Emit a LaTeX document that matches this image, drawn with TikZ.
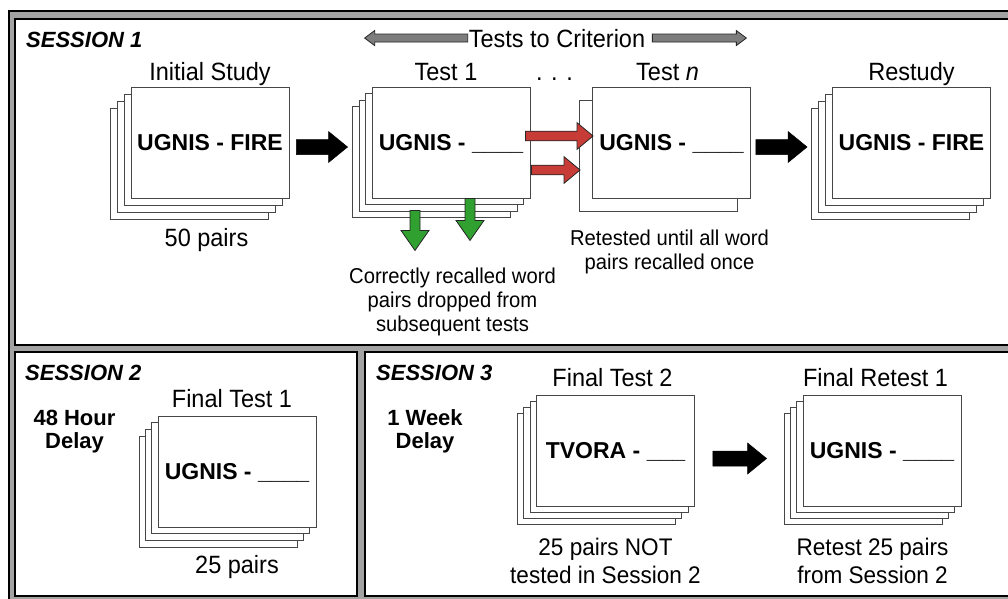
\documentclass[tikz,border=0pt]{standalone}
\usepackage{fontspec}
\setmainfont{Liberation Sans}[FakeStretch=0.94]
\newfontfamily\cardfont{Liberation Sans}
\usetikzlibrary{positioning, calc}

\definecolor{bandgray}{RGB}{163,163,163}
\definecolor{cardline}{RGB}{70,70,70}
\definecolor{dropgreen}{RGB}{48,160,48}
\definecolor{retestred}{RGB}{200,60,55}
\definecolor{critgray}{RGB}{125,125,125}

\begin{document}
\begin{tikzpicture}[x=1pt, y=-1pt,
    card/.style={rectangle, draw=cardline, line width=0.9pt, fill=white,
        minimum width=158pt, minimum height=111pt, inner sep=0pt,
        text height=16.5pt, text depth=0pt,
        font=\cardfont\bfseries\fontsize{23}{26}\selectfont},
    lbl/.style={inner sep=0pt, font=\fontsize{25}{28}\selectfont},
    note/.style={inner sep=0pt, align=center, font=\fontsize{21.5}{24}\selectfont},
    bignote/.style={inner sep=0pt, align=center, font=\fontsize{24}{28}\selectfont},
    sesslbl/.style={inner sep=0pt, anchor=base west, font=\cardfont\bfseries\itshape\fontsize{22}{24}\selectfont},
    delaylbl/.style={inner sep=0pt, align=center, font=\cardfont\bfseries\fontsize{22}{23}\selectfont},
    panel/.style={draw=black, line width=2pt, fill=white},
    blockarrow/.style n args={3}{to path={
        ($(\tikztostart)!#1!90:(\tikztotarget)$)
        -- ($(\tikztotarget)!#3!(\tikztostart)!#1!-90:(\tikztostart)$)
        -- ($(\tikztotarget)!#3!(\tikztostart)!#2!-90:(\tikztostart)$)
        -- (\tikztotarget)
        -- ($(\tikztotarget)!#3!(\tikztostart)!#2!90:(\tikztostart)$)
        -- ($(\tikztotarget)!#3!(\tikztostart)!#1!90:(\tikztostart)$)
        -- ($(\tikztostart)!#1!-90:(\tikztotarget)$)
        -- cycle}},
    blackarrow/.style={fill=black, draw=black, line width=0.5pt, blockarrow={7.5pt}{15.5pt}{19pt}},
    redarrow/.style={fill=retestred, draw=black!85, line width=0.8pt, blockarrow={4.8pt}{13.3pt}{16pt}},
    greenarrow/.style={fill=dropgreen, draw=black!85, line width=0.8pt, blockarrow={5pt}{14pt}{20pt}},
    grayarrow/.style={fill=critgray, draw=black!85, line width=0.8pt, blockarrow={4pt}{7.5pt}{10pt}}]

    %fixes the page and draws the frame with the three panels
    \useasboundingbox (0,0) rectangle (1008,598);
    \clip (0,0) rectangle (1008,598);
    \draw [fill=bandgray, draw=black, line width=2pt] (8.7,11) rectangle (1040,640);%gray frame
    \draw [panel] (15.3,19) rectangle (1040,344.5);%session 1 panel
    \draw [panel] (15.3,351.8) rectangle (356.7,595.5);%session 2 panel
    \draw [panel] (364.5,351.8) rectangle (1040,595.5);%session 3 panel

    %session names and delays
    \node (sess1) [sesslbl] at (26,47) {SESSION 1};
    \node (sess2) [sesslbl] at (25,380) {SESSION 2};
    \node (sess3) [sesslbl] at (376,380) {SESSION 3};
    \node (delay2) [delaylbl, anchor=base] at (74.5,448) {48 Hour\\Delay};%base is the last line
    \node (delay3) [delaylbl, anchor=base] at (425,448) {1 Week\\Delay};

    %tests to criterion with its two gray arrows
    \node (crit) [lbl, anchor=base] at (557,47) {Tests to Criterion};
    \coordinate (critls) at ($(crit.west)+(-1,0)$);
    \coordinate (critle) at ($(crit.west)+(-104,0)$);
    \coordinate (critrs) at ($(crit.east)+(7,0)$);
    \coordinate (critre) at ($(crit.east)+(101,0)$);
    \draw [grayarrow] (critls) to (critle);%points back
    \draw [grayarrow] (critrs) to (critre);%points on
    \node (dots) [lbl, anchor=base] at (554.5,80) {. . .};

    %initial study stack
    \coordinate (studyc) at (210,142.5);
    \foreach \k in {3,2,1}
        \node (study\k) [card] at ($(studyc)+(-7*\k,7*\k)$) {};%cards behind
    \node (study) [card] at (studyc) {UGNIS - FIRE};%front card
    \node (studylbl) [lbl, above=6pt of study, anchor=base] {Initial Study};
    \node (studyn) [lbl, below=48pt of study, anchor=base, xshift=-3.5pt] {50 pairs};

    %test 1 stack
    \coordinate (test1c) at (451,142.5);
    \foreach \k in {3,2,1}
        \node (test1\k) [card] at ($(test1c)+(-6.5*\k,6.5*\k)$) {};
    \node (test1) [card] at (test1c) {UGNIS - \_\_\_\_};
    \node (test1lbl) [lbl, above=6pt of test1, anchor=base, xshift=-5pt] {Test 1};

    %test n with one card behind
    \coordinate (testnc) at (671.5,142.5);
    \node (testnb) [card] at ($(testnc)+(-13,13)$) {};
    \node (testn) [card] at (testnc) {UGNIS - \_\_\_\_};
    \node (testnlbl) [lbl, above=6pt of testn, anchor=base, xshift=-4pt] {Test \textit{n}};
    \node (retestnote) [note, below=71pt of testn, anchor=base, xshift=-2pt] {Retested until all word\\pairs recalled once};

    %restudy stack
    \coordinate (restudyc) at (911.5,142.5);
    \foreach \k in {3,2,1}
        \node (restudy\k) [card] at ($(restudyc)+(-7*\k,7*\k)$) {};
    \node (restudy) [card] at (restudyc) {UGNIS - FIRE};
    \node (restudylbl) [lbl, above=6pt of restudy, anchor=base] {Restudy};

    %session 1 arrows
    \coordinate (a1s) at ($(study.east)+(7,4.5)$);
    \coordinate (a1e) at ($(test1.west)+(-24,4.5)$);
    \draw [blackarrow] (a1s) to (a1e);%study to test 1
    \coordinate (r1s) at ($(test1.east)+(-5,-6.5)$);
    \coordinate (r1e) at ($(testn.west)+(1,-6.5)$);
    \coordinate (r2s) at ($(test1.east)+(1,27.5)$);
    \coordinate (r2e) at ($(testnb.west)+(1,14.5)$);
    \draw [redarrow] (r1s) to (r1e);%retested pairs
    \draw [redarrow] (r2s) to (r2e);
    \coordinate (g1s) at ($(test1.south)+(-36,12)$);
    \coordinate (g1e) at ($(test1.south)+(-36,52)$);
    \coordinate (g2s) at ($(test1.south)+(19,0)$);
    \coordinate (g2e) at ($(test1.south)+(19,42)$);
    \draw [greenarrow] (g1s) to (g1e);%dropped pairs
    \draw [greenarrow] (g2s) to (g2e);
    \node (dropnote) [note, below=133pt of test1, anchor=base, xshift=1.5pt] {Correctly recalled word\\pairs dropped from\\subsequent tests};
    \coordinate (a2s) at ($(testn.east)+(5,4.5)$);
    \coordinate (a2e) at ($(restudy.west)+(-25,4.5)$);
    \draw [blackarrow] (a2s) to (a2e);%test n to restudy

    %session 2 stack
    \coordinate (final1c) at (237,471.5);
    \foreach \k in {3,2,1}
        \node (final1\k) [card] at ($(final1c)+(-6.3*\k,6.7*\k)$) {};
    \node (final1) [card] at (final1c) {UGNIS - \_\_\_\_};
    \node (final1lbl) [lbl, above=8pt of final1, anchor=base, xshift=-5pt] {Final Test 1};
    \node (final1n) [lbl, below=46pt of final1, anchor=base] {25 pairs};

    %session 3 stacks
    \coordinate (final2c) at (615.5,450.5);
    \foreach \k in {3,2,1}
        \node (final2\k) [card] at ($(final2c)+(-6.3*\k,6.3*\k)$) {};
    \node (final2) [card] at (final2c) {TVORA - \_\_\_};
    \node (final2lbl) [lbl, above=8pt of final2, anchor=base, xshift=-3pt] {Final Test 2};
    \node (final2n) [bignote, below=77pt of final2, anchor=base, xshift=-10pt] {25 pairs NOT\\tested in Session 2};
    \coordinate (retestc) at (882,450.5);
    \foreach \k in {3,2,1}
        \node (retest\k) [card] at ($(retestc)+(-6.3*\k,6.3*\k)$) {};
    \node (retest) [card] at (retestc) {UGNIS - \_\_\_\_};
    \node (retestlbl) [lbl, above=8pt of retest, anchor=base, xshift=-6.5pt] {Final Retest 1};
    \node (retestn) [bignote, below=77pt of retest, anchor=base, xshift=-9.5pt] {Retest 25 pairs\\from Session 2};
    \coordinate (a3s) at ($(final2.east)+(18,8)$);
    \coordinate (a3e) at ($(retest.west)+(-36,8)$);
    \draw [blackarrow] (a3s) to (a3e);%final test 2 to final retest 1
\end{tikzpicture}
\end{document}
